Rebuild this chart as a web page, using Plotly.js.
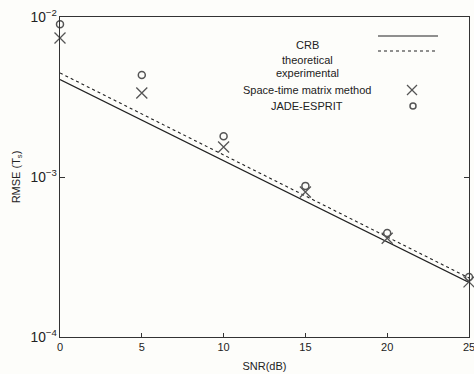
<!DOCTYPE html>
<html><head><meta charset="utf-8">
<script src="https://cdn.plot.ly/plotly-3.0.1.min.js"></script>
<style>html,body{margin:0;padding:0;background:#fdfdfa;}#chart{width:474px;height:374px;}</style>
</head><body><div id="chart"></div>
<script>
// SNR values (dB)
var snr = [0, 5, 10, 15, 20, 25];
// CRB theoretical (solid) and experimental (dashed)
var crbTheoretical = [4.07e-3, 2.27e-3, 1.26e-3, 7.05e-4, 3.93e-4, 2.19e-4];
var crbExperimental = [4.47e-3, 2.48e-3, 1.37e-3, 7.62e-4, 4.23e-4, 2.34e-4];
// Space-time matrix method (x markers)
var spaceTime = [7.4e-3, 3.35e-3, 1.54e-3, 8.06e-4, 4.14e-4, 2.21e-4];
// JADE-ESPRIT (o markers)
var jadeEsprit = [9.0e-3, 4.34e-3, 1.80e-3, 8.8e-4, 4.47e-4, 2.37e-4];
var xTicks = [0, 5, 10, 15, 20, 25];
var yMinorTicks = [2e-4, 3e-4, 4e-4, 5e-4, 6e-4, 7e-4, 8e-4, 9e-4,
                   2e-3, 3e-3, 4e-3, 5e-3, 6e-3, 7e-3, 8e-3, 9e-3];
var legendLabels = ['CRB', 'theoretical', 'experimental', 'Space-time matrix method', 'JADE-ESPRIT'];

var ink = '#222';
var mk = '#555';
var traces = [
  {x: snr, y: crbTheoretical, mode: 'lines', line: {color: ink, width: 1.2}, showlegend: false},
  {x: snr, y: crbExperimental, mode: 'lines', line: {color: ink, width: 1.1, dash: '3px,3px'}, showlegend: false},
  {x: snr, y: spaceTime, mode: 'markers', marker: {symbol: 'x-thin-open', size: 11, color: mk, line: {color: mk, width: 1.3}}, showlegend: false, cliponaxis: false},
  {x: snr, y: jadeEsprit, mode: 'markers', marker: {symbol: 'circle-open', size: 7, color: mk, line: {color: mk, width: 1.5}}, showlegend: false, cliponaxis: false}
];

var font = {family: 'Liberation Sans, Arial, sans-serif', size: 11, color: '#222'};
var textYs = [45, 60, 73, 90, 106];
function px(x) { return (x - 60) / 409; }
function py(y) { return 1 - (y - 17) / 320; }
var annotations = legendLabels.map(function (t, i) {
  return {xref: 'paper', yref: 'paper', x: px(307), y: py(textYs[i]),
          text: t, showarrow: false, xanchor: 'center', yanchor: 'middle', font: font};
});
var shapes = [
  {type: 'line', xref: 'paper', yref: 'paper', x0: px(378), x1: px(438), y0: py(36), y1: py(36), line: {color: ink, width: 1.2}},
  {type: 'line', xref: 'paper', yref: 'paper', x0: px(378), x1: px(438), y0: py(51), y1: py(51), line: {color: ink, width: 1.1, dash: '3px,3px'}},
  {type: 'line', xref: 'paper', yref: 'paper', x0: px(407), x1: px(417), y0: py(85), y1: py(95), line: {color: mk, width: 1.3}},
  {type: 'line', xref: 'paper', yref: 'paper', x0: px(407), x1: px(417), y0: py(95), y1: py(85), line: {color: mk, width: 1.3}},
  {type: 'circle', xref: 'paper', yref: 'paper', x0: px(410), x1: px(416), y0: py(103), y1: py(109), line: {color: mk, width: 1.5}}
];
// minor log ticks on the left and right frame (axis decoration); shapes on log axes take log10 values
yMinorTicks.forEach(function (v) {
  var lv = Math.log10(v);
  shapes.push({type: 'line', xref: 'paper', yref: 'y', x0: 0, x1: 4 / 409, y0: lv, y1: lv, line: {color: '#333', width: 1}});
  shapes.push({type: 'line', xref: 'paper', yref: 'y', x0: 1 - 4 / 409, x1: 1, y0: lv, y1: lv, line: {color: '#333', width: 1}});
});

var layout = {
  width: 474, height: 374,
  margin: {l: 60, r: 5, t: 17, b: 37},
  paper_bgcolor: '#fdfdfa', plot_bgcolor: '#fdfdfa',
  font: font,
  showlegend: false,
  xaxis: {
    range: [0, 25], tickvals: xTicks, ticktext: xTicks.map(String), ticklabeloverflow: 'allow',
    ticks: 'inside', ticklen: 4, tickcolor: '#333', showgrid: false, zeroline: false,
    showline: true, linecolor: '#333', linewidth: 1, mirror: true,
    title: {text: 'SNR(dB)', font: font, standoff: 10}, tickfont: font
  },
  yaxis: {
    type: 'log', range: [-4, -2], dtick: 1, exponentformat: 'power',
    ticks: 'inside', ticklen: 5, tickcolor: '#333', showgrid: false, zeroline: false,
    showline: true, linecolor: '#333', linewidth: 1, mirror: 'ticks',
    title: {text: 'RMSE (T<sub>s</sub>)', font: font, standoff: 7}, tickfont: font
  },
  annotations: annotations,
  shapes: shapes
};
Plotly.newPlot('chart', traces, layout, {displayModeBar: false, staticPlot: true});
</script></body></html>
